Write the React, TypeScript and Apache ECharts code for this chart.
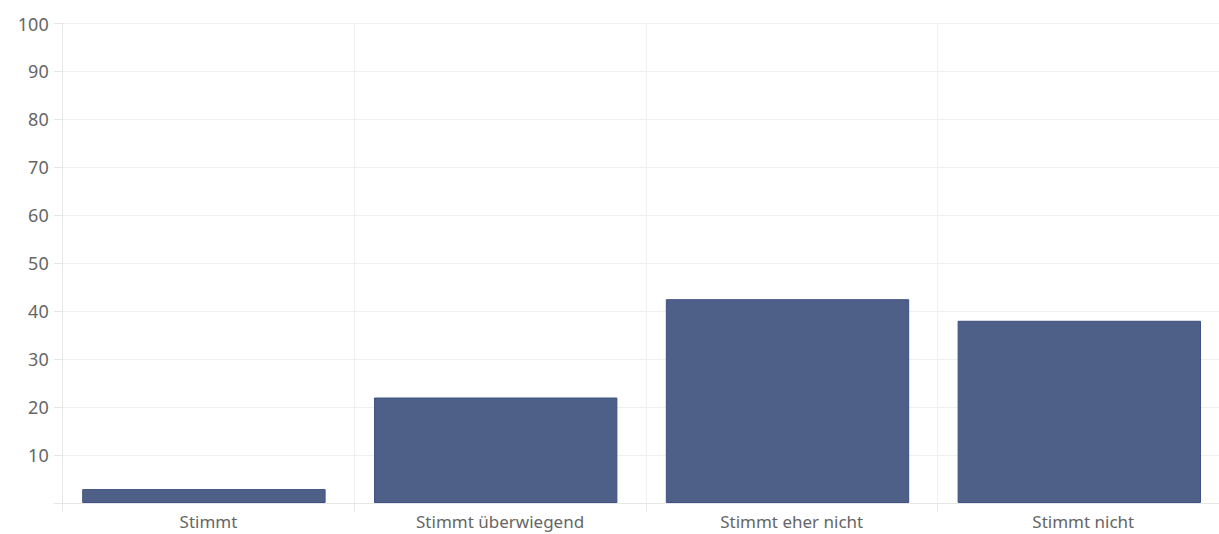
import React, { useEffect, useRef } from "react";
import * as echarts from "echarts";

const categories = ["Stimmt", "Stimmt überwiegend", "Stimmt eher nicht", "Stimmt nicht"];
const values = [2.9, 22, 42.5, 38];
const yMin = 0;
const yMax = 100;
const yInterval = 10;

export default function App() {
  const ref = useRef<HTMLDivElement>(null);
  useEffect(() => {
    if (!ref.current) return;
    const chart = echarts.init(ref.current, null, { renderer: "svg" });
    const gridColor = "#efefef";
    const top = 23.5;
    const height = 479.5;
    chart.setOption({
      animation: false,
      grid: [
        { left: 58, top, width: 1167.2, height },
        { left: 62.7, top, width: 1166.4, height },
      ],
      xAxis: [
        {
          type: "category",
          gridIndex: 0,
          data: categories,
          axisLine: { show: false },
          axisTick: { show: false },
          axisLabel: { show: false },
          splitLine: { show: false },
        },
        {
          type: "category",
          gridIndex: 1,
          data: categories,
          boundaryGap: true,
          axisLine: { show: true, lineStyle: { color: "#e6e6e6", width: 1 } },
          axisTick: { show: true, length: 9, lineStyle: { color: "#e6e6e6" } },
          splitLine: { show: true, lineStyle: { color: gridColor, width: 1 } },
          axisLabel: {
            color: "#666",
            fontSize: 17,
            fontFamily: "Noto Sans",
            margin: 10,
          },
        },
      ],
      yAxis: [
        {
          type: "value",
          gridIndex: 0,
          min: yMin,
          max: yMax,
          interval: yInterval,
          show: false,
          splitLine: { show: false },
        },
        {
          type: "value",
          gridIndex: 1,
          min: yMin,
          max: yMax,
          interval: yInterval,
          axisLine: { show: true, lineStyle: { color: "#e6e6e6", width: 1 } },
          axisTick: { show: true, length: 9, lineStyle: { color: "#e6e6e6" } },
          splitLine: { show: true, lineStyle: { color: gridColor, width: 1 } },
          axisLabel: {
            color: "#666",
            fontSize: 18,
            fontFamily: "Noto Sans",
            margin: 14,
            formatter: (v: number) => (v === 0 ? "" : String(v)),
          },
        },
      ],
      series: [
        {
          type: "bar",
          xAxisIndex: 0,
          yAxisIndex: 0,
          data: values,
          barCategoryGap: "16.6%",
          itemStyle: { color: "#4f6088", borderColor: "#3f5082", borderWidth: 1 },
          z: 3,
        },
      ],
    });
    return () => chart.dispose();
  }, []);
  return (
    <div
      style={{
        position: "absolute",
        left: 0,
        top: 0,
        width: 1219,
        height: 534,
        overflow: "hidden",
        background: "#fff",
      }}
    >
      <div ref={ref} style={{ width: 1240, height: 534 }} />
    </div>
  );
}
